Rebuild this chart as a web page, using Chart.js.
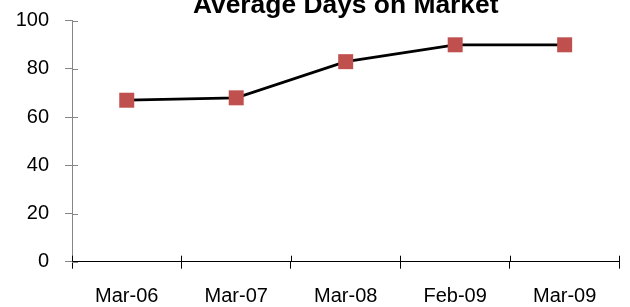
<!DOCTYPE html>
<html><head><meta charset="utf-8">
<script src="https://cdn.jsdelivr.net/npm/chart.js@4.4.1/dist/chart.umd.min.js"></script>
<style>html,body{margin:0;padding:0;background:#fff;overflow:hidden;}</style>
</head><body>
<canvas id="c" width="630" height="307"></canvas>
<script>
const categories = ['Mar-06', 'Mar-07', 'Mar-08', 'Feb-09', 'Mar-09'];
const daysOnMarket = [67, 68, 83, 90, 90];
const yTickValues = [0, 20, 40, 60, 80, 100];
const titleText = 'Average Days on Market';

const FONT = "'Liberation Sans', Arial, sans-serif";

const crossTicks = {
  id: 'crossTicks',
  afterDraw(chart) {
    const ctx = chart.ctx, xs = chart.scales.x, ys = chart.scales.y;
    ctx.save();
    ctx.lineWidth = 1;
    ctx.strokeStyle = '#868686';
    ys.ticks.forEach(t => {
      const py = Math.round(ys.getPixelForValue(t.value)) + 0.5;
      ctx.beginPath(); ctx.moveTo(ys.right, py); ctx.lineTo(ys.right + 6, py); ctx.stroke();
    });
    ctx.strokeStyle = '#000';
    for (let i = 0; i <= categories.length; i++) {
      const px = Math.round(xs.getPixelForValue(i - 0.5)) + 0.5;
      ctx.beginPath(); ctx.moveTo(px, xs.top); ctx.lineTo(px, xs.top - 6); ctx.stroke();
    }
    ctx.restore();
  }
};

function zeroPad(s) { s.paddingLeft = 0; s.paddingRight = 0; s.paddingTop = 0; s.paddingBottom = 0; }

new Chart(document.getElementById('c'), {
  type: 'line',
  data: {
    labels: categories,
    datasets: [{
      data: daysOnMarket,
      borderColor: '#000',
      borderWidth: 2.75,
      pointStyle: 'rect',
      pointRadius: 10.6,
      pointHoverRadius: 10.6,
      pointBackgroundColor: '#C0504D',
      pointBorderColor: '#C0504D',
      pointBorderWidth: 0,
      tension: 0,
      clip: false
    }]
  },
  options: {
    responsive: false,
    animation: false,
    events: [],
    layout: { padding: { left: 0, right: 9.3, top: 0, bottom: 0 } },
    plugins: {
      legend: { display: false },
      tooltip: { enabled: false },
      title: {
        display: true,
        text: titleText,
        fullSize: false,
        color: '#000',
        font: { family: FONT, size: 26.4, weight: 'bold', lineHeight: 1 },
        padding: { top: -7.4, bottom: 1.7 }
      }
    },
    scales: {
      x: {
        offset: true,
        afterFit: s => { zeroPad(s); s.height = 45.3; },
        grid: { display: true, drawOnChartArea: false, tickLength: 7, color: '#000', offset: true },
        border: { display: true, color: '#000', width: 1 },
        ticks: { color: '#000', padding: 15.5, font: { family: FONT, size: 20 }, maxRotation: 0, autoSkip: false }
      },
      y: {
        min: 0, max: 100,
        afterBuildTicks: s => { s.ticks = yTickValues.map(v => ({ value: v })); },
        afterFit: s => { zeroPad(s); s.width = 72; },
        grid: { display: true, drawOnChartArea: false, tickLength: 7, color: '#868686' },
        border: { display: true, color: '#868686', width: 1 },
        ticks: { color: '#000', padding: 16, font: { family: FONT, size: 20 } }
      }
    }
  },
  plugins: [crossTicks]
});
</script>
</body></html>
